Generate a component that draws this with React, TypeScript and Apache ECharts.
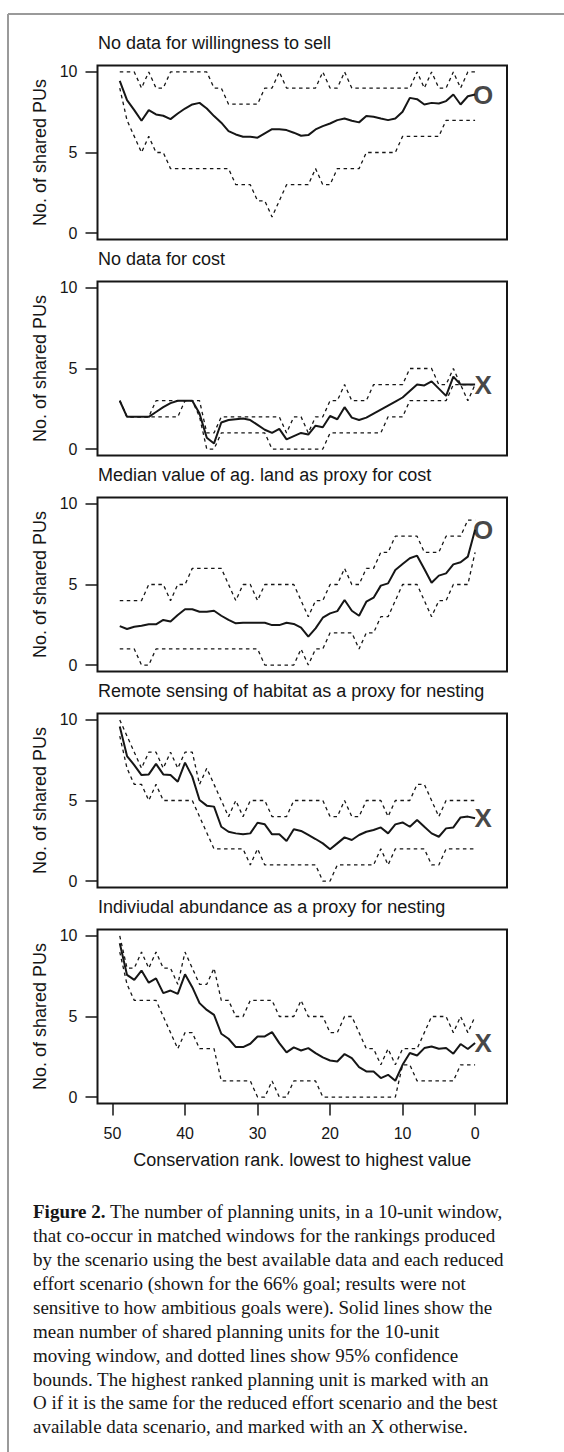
import React, { useEffect, useRef } from "react";
import * as echarts from "echarts";

const ranks = [49, 48, 47, 46, 45, 44, 43, 42, 41, 40, 39, 38, 37, 36, 35, 34, 33, 32, 31, 30, 29, 28, 27, 26, 25, 24, 23, 22, 21, 20, 19, 18, 17, 16, 15, 14, 13, 12, 11, 10, 9, 8, 7, 6, 5, 4, 3, 2, 1, 0];

const panelTitles = [
  "No data for willingness to sell",
  "No data for cost",
  "Median value of ag. land as proxy for cost",
  "Remote sensing of habitat as a proxy for nesting",
  "Indiviudal abundance as a proxy for nesting",
];
const markers = ["O", "X", "O", "X", "X"];

const mean1 = [9.44, 8.25, 7.63, 6.97, 7.63, 7.36, 7.28, 7.07, 7.42, 7.73, 7.98, 8.08, 7.73, 7.26, 6.85, 6.33, 6.12, 5.98, 5.98, 5.92, 6.19, 6.45, 6.45, 6.39, 6.23, 6.04, 6.08, 6.43, 6.64, 6.8, 7.01, 7.11, 6.97, 6.87, 7.26, 7.22, 7.11, 7.01, 7.11, 7.53, 8.39, 8.31, 7.98, 8.08, 8.04, 8.19, 8.6, 7.98, 8.49, 8.6];
const upper1 = [10, 10, 10, 9, 10, 9, 9, 10, 10, 10, 10, 10, 10, 9, 9, 8, 8, 8, 8, 8, 9, 9, 10, 9, 9, 9, 9, 9, 10, 9, 9, 10, 9, 9, 9, 9, 9, 9, 9, 9, 9, 10, 9, 10, 9, 9, 10, 9, 10, 10];
const lower1 = [9, 7, 6, 5, 6, 5, 5, 4, 4, 4, 4, 4, 4, 4, 4, 4, 3, 3, 3, 2, 2, 1, 2, 3, 3, 3, 3, 4, 3, 3, 4, 4, 4, 4, 5, 5, 5, 5, 5, 6, 6, 6, 6, 6, 6, 7, 7, 7, 7, 7];

const mean2 = [3.0, 2.0, 2.0, 2.0, 2.0, 2.3, 2.6, 2.85, 3.0, 3.0, 3.0, 2.2, 0.7, 0.35, 1.65, 1.8, 1.85, 1.9, 1.8, 1.5, 1.2, 1.0, 1.25, 0.6, 0.8, 1.0, 0.9, 1.45, 1.35, 2.05, 1.85, 2.6, 1.95, 1.8, 1.95, 2.2, 2.45, 2.7, 2.95, 3.2, 3.6, 4.0, 3.95, 4.2, 3.75, 3.3, 4.5, 4.0, 4.0, 4.0];
const upper2 = [3, 2, 2, 2, 2, 3, 3, 3, 3, 3, 3, 3, 1, 1, 2, 2, 2, 2, 2, 2, 2, 2, 2, 1, 2, 2, 1, 2, 2, 3, 3, 4, 3, 3, 3, 4, 4, 4, 4, 4, 5, 5, 5, 5, 4, 4, 5, 4, 4, 4];
const lower2 = [3, 2, 2, 2, 2, 2, 2, 2, 2, 3, 3, 2, 0, 0, 1, 1, 1, 1, 1, 1, 1, 0, 0, 0, 0, 0, 0, 0, 0, 1, 1, 1, 1, 1, 1, 1, 1, 2, 2, 2, 3, 3, 3, 3, 3, 3, 4, 4, 3, 4];

const mean3 = [2.42, 2.24, 2.38, 2.44, 2.53, 2.53, 2.8, 2.71, 3.11, 3.46, 3.46, 3.31, 3.31, 3.37, 3.06, 2.8, 2.59, 2.63, 2.63, 2.63, 2.63, 2.48, 2.48, 2.63, 2.55, 2.32, 1.76, 2.28, 2.94, 3.21, 3.35, 4.04, 3.37, 3.06, 3.93, 4.18, 4.93, 5.07, 5.9, 6.27, 6.63, 6.79, 5.96, 5.11, 5.55, 5.69, 6.25, 6.38, 6.73, 8.4];
const upper3 = [4, 4, 4, 4, 5, 5, 5, 4, 5, 5, 6, 6, 6, 6, 6, 5, 4, 5, 5, 4, 5, 5, 5, 5, 5, 4, 3, 4, 4, 5, 5, 6, 5, 5, 6, 6, 7, 7, 8, 8, 8, 8, 7, 7, 7, 8, 8, 8, 9, 9];
const lower3 = [1, 1, 1, 0, 0, 1, 1, 1, 1, 1, 1, 1, 1, 1, 1, 1, 1, 1, 1, 1, 0, 0, 0, 0, 0, 1, 0, 1, 1, 2, 2, 2, 2, 1, 2, 2, 3, 3, 4, 5, 5, 5, 4, 3, 4, 4, 5, 5, 5, 7];

const mean4 = [9.59, 7.76, 7.2, 6.58, 6.62, 7.27, 6.62, 6.58, 6.17, 7.35, 6.48, 5.03, 4.68, 4.62, 3.37, 3.06, 2.96, 2.9, 2.96, 3.62, 3.52, 2.9, 2.9, 2.48, 3.21, 3.11, 2.86, 2.61, 2.34, 1.97, 2.34, 2.71, 2.55, 2.86, 3.06, 3.17, 3.33, 2.96, 3.52, 3.64, 3.37, 3.79, 3.37, 2.96, 2.75, 3.27, 3.33, 3.95, 4.0, 3.9];
const upper4 = [10, 9, 8, 7, 8, 8, 7, 8, 7, 8, 8, 6, 7, 6, 5, 4, 5, 4, 5, 5, 5, 4, 4, 4, 5, 5, 5, 5, 5, 4, 4, 5, 4, 4, 5, 5, 5, 4, 5, 5, 5, 6, 6, 5, 4, 5, 5, 5, 5, 5];
const lower4 = [9, 7, 6, 6, 5, 6, 5, 5, 5, 5, 5, 4, 3, 2, 2, 2, 2, 2, 1, 2, 1, 1, 1, 1, 1, 1, 1, 1, 0, 0, 1, 1, 1, 1, 1, 1, 2, 1, 2, 2, 2, 2, 2, 1, 1, 2, 2, 2, 2, 2];

const mean5 = [9.55, 7.58, 7.27, 7.85, 7.1, 7.37, 6.45, 6.61, 6.4, 7.62, 6.82, 5.83, 5.41, 5.1, 3.93, 3.62, 3.1, 3.1, 3.31, 3.76, 3.76, 4.03, 3.35, 2.77, 3.08, 2.89, 3.04, 2.73, 2.46, 2.27, 2.21, 2.67, 2.42, 1.86, 1.59, 1.59, 1.18, 1.38, 1.01, 2.0, 2.73, 2.58, 3.04, 3.14, 3.0, 3.04, 2.69, 3.29, 2.98, 3.35];
const upper5 = [10, 8, 8, 9, 8, 9, 8, 8, 7, 9, 8, 7, 7, 8, 6, 6, 5, 5, 6, 6, 6, 6, 5, 5, 5, 6, 5, 5, 5, 4, 4, 5, 5, 4, 3, 3, 2, 3, 2, 3, 3, 3, 4, 5, 5, 5, 4, 5, 4, 5];
const lower5 = [9, 7, 6, 6, 6, 6, 5, 4, 3, 4, 4, 3, 3, 3, 1, 1, 1, 1, 1, 0, 0, 1, 0, 0, 1, 1, 1, 1, 0, 0, 0, 0, 0, 0, 0, 0, 0, 0, 0, 2, 2, 1, 1, 1, 1, 1, 1, 2, 2, 2];

const means = [mean1, mean2, mean3, mean4, mean5];
const uppers = [upper1, upper2, upper3, upper4, upper5];
const lowers = [lower1, lower2, lower3, lower4, lower5];

const xTicks = [50, 40, 30, 20, 10, 0];
const yTicks = [0, 5, 10];
const markerRank = -1.1;

const yTitle = "No. of shared PUs";
const xTitle = "Conservation rank. lowest to highest value";

const captionLines = [
  "{b|Figure 2.} The number of planning units, in a 10-unit window,",
  "that co-occur in matched windows for the rankings produced",
  "by the scenario using the best available data and each reduced",
  "effort scenario (shown for the 66% goal; results were not",
  "sensitive to how ambitious goals were). Solid lines show the",
  "mean number of shared planning units for the 10-unit",
  "moving window, and dotted lines show 95% confidence",
  "bounds. The highest ranked planning unit is marked with an",
  "O if it is the same for the reduced effort scenario and the best",
  "available data scenario, and marked with an X otherwise.",
];

const SANS = '"Liberation Sans", Arial, Helvetica, sans-serif';
const SERIF = '"Liberation Serif", "Times New Roman", serif';
const INK = "#161616";

export default function App() {
  const ref = useRef<HTMLDivElement>(null);
  useEffect(() => {
    const chart = echarts.init(ref.current!, null, { renderer: "svg" });
    const GL = 97.5;
    const GW = 409.5;
    const GT = 65.5;
    const GH = 174;
    const STEP = 216;

    const grids: any[] = [];
    const xAxes: any[] = [];
    const yAxes: any[] = [];
    const series: any[] = [];
    const graphics: any[] = [];

    for (let i = 0; i < 5; i++) {
      const last = i === 4;
      grids.push({
        left: GL,
        top: GT + STEP * i,
        width: GW,
        height: GH,
        show: true,
        borderColor: INK,
        borderWidth: 2,
        backgroundColor: "transparent",
        containLabel: false,
        outerBoundsMode: "none",
      });
      xAxes.push({
        type: "value",
        gridIndex: i,
        position: "bottom",
        min: -4.4,
        max: 52.07,
        inverse: true,
        axisLine: { show: false, onZero: false },
        splitLine: { show: false },
        axisTick: {
          show: last,
          customValues: xTicks,
          length: 12,
          lineStyle: { color: INK, width: 1.5 },
        },
        axisLabel: {
          show: last,
          customValues: xTicks,
          margin: 22,
          fontSize: 16,
          color: INK,
          fontFamily: SANS,
        },
        name: last ? xTitle : "",
        nameLocation: "middle",
        nameGap: 47,
        nameTextStyle: { fontSize: 18, color: INK, fontFamily: SANS },
      });
      yAxes.push({
        type: "value",
        gridIndex: i,
        position: "left",
        min: -0.4,
        max: 10.4,
        axisLine: { show: false, onZero: false },
        splitLine: { show: false },
        axisTick: {
          show: true,
          customValues: yTicks,
          length: 12,
          lineStyle: { color: INK, width: 1.5 },
        },
        axisLabel: {
          customValues: yTicks,
          margin: 20,
          fontSize: 16,
          color: INK,
          fontFamily: SANS,
        },
        name: yTitle,
        nameLocation: "middle",
        nameGap: 48,
        nameRotate: 90,
        nameTextStyle: { fontSize: 18, color: INK, fontFamily: SANS },
      });
      const dotted = { color: INK, width: 1.3, type: [3.5, 3.5] };
      series.push({
        type: "line",
        xAxisIndex: i,
        yAxisIndex: i,
        data: ranks.map((r, k) => [r, uppers[i][k]]),
        symbol: "none",
        lineStyle: dotted,
        silent: true,
        z: 2,
      });
      series.push({
        type: "line",
        xAxisIndex: i,
        yAxisIndex: i,
        data: ranks.map((r, k) => [r, lowers[i][k]]),
        symbol: "none",
        lineStyle: dotted,
        silent: true,
        z: 2,
      });
      series.push({
        type: "line",
        xAxisIndex: i,
        yAxisIndex: i,
        data: ranks.map((r, k) => [r, means[i][k]]),
        symbol: "none",
        lineStyle: { color: INK, width: 2 },
        silent: true,
        z: 3,
      });
      series.push({
        type: "scatter",
        xAxisIndex: i,
        yAxisIndex: i,
        data: [[markerRank, means[i][means[i].length - 1]]],
        symbol: "circle",
        symbolSize: 1,
        itemStyle: { color: "rgba(0,0,0,0)" },
        silent: true,
        z: 4,
        label: {
          show: true,
          position: "inside",
          formatter: markers[i],
          fontSize: 26,
          fontWeight: "bold",
          color: INK,
          fontFamily: SANS,
        },
      });
      graphics.push({
        type: "text",
        x: 98,
        y: GT + STEP * i - 23,
        silent: true,
        style: {
          text: panelTitles[i],
          font: `18px ${SANS}`,
          fill: INK,
          textAlign: "left",
          textVerticalAlign: "middle",
        },
      });
    }

    graphics.push({
      type: "line",
      silent: true,
      shape: { x1: 8, y1: 14, x2: 564, y2: 14 },
      style: { stroke: "#9a9a9a", lineWidth: 2 },
    });
    graphics.push({
      type: "line",
      silent: true,
      shape: { x1: 8, y1: 14, x2: 8, y2: 1452 },
      style: { stroke: "#9a9a9a", lineWidth: 2 },
    });

    captionLines.forEach((line, k) => {
      graphics.push({
        type: "text",
        x: 33,
        y: 1211.7 + 23.9 * k,
        silent: true,
        style: {
          text: line,
          font: `19px ${SERIF}`,
          fill: INK,
          textAlign: "left",
          textVerticalAlign: "middle",
          rich: {
            b: { fontWeight: "bold", fontSize: 19, fontFamily: SERIF, fill: INK },
          },
        },
      });
    });

    chart.setOption({
      animation: false,
      backgroundColor: "#ffffff",
      grid: grids,
      xAxis: xAxes,
      yAxis: yAxes,
      series,
      graphic: graphics,
    });
    return () => chart.dispose();
  }, []);
  return (
    <div
      ref={ref}
      style={{ position: "absolute", left: 0, top: 0, width: 564, height: 1452, background: "#fff" }}
    />
  );
}
